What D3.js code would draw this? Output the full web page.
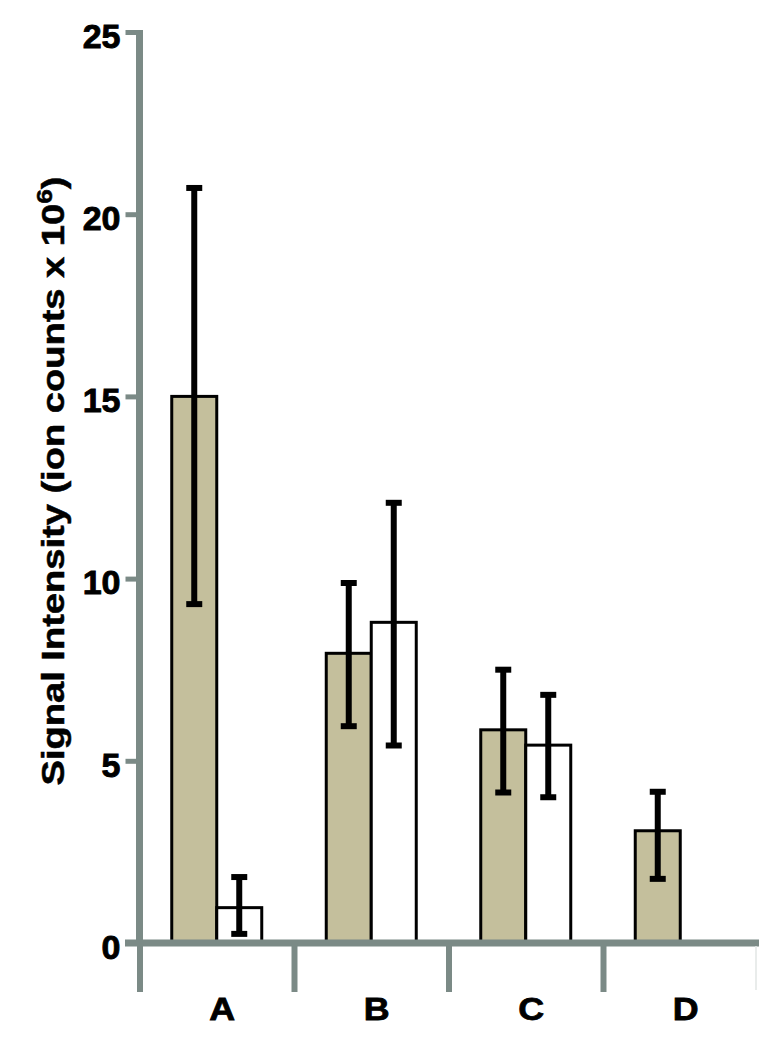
<!DOCTYPE html>
<html>
<head>
<meta charset="utf-8">
<script src="https://cdn.jsdelivr.net/npm/d3@7"></script>
<style>
  html, body { margin: 0; padding: 0; background: #fff; }
  svg { display: block; }
  text { font-family: "Liberation Sans", Arial, sans-serif; font-weight: bold; fill: #000; }
</style>
</head>
<body>
<svg id="chart" width="776" height="1050"></svg>
<script>
// ---- data ----
const categories = ["A", "B", "C", "D"];
const seriesNames = ["filled", "open"];
const meanFilled = [15.0, 7.95, 5.85, 3.08];
const lowFilled  = [9.3, 5.95, 4.13, 1.76];
const highFilled = [20.72, 9.88, 7.5, 4.15];
const meanOpen = [0.97, 8.8, 5.43, null];
const lowOpen  = [0.25, 5.42, 4.0, null];
const highOpen = [1.81, 12.08, 6.81, null];
const yTicks = [0, 5, 10, 15, 20, 25];
const yTitle = "Signal Intensity (ion counts x 10";
const ySup = "6";

// ---- layout ----
const svg = d3.select("#chart");
const axisColor = "#7b8a86";
const tan = "#c4bf9c";

const x = d3.scaleBand().domain(categories).range([140, 758]).padding(0);
const xs = d3.scaleBand().domain(seriesNames).range([0, 90]).padding(0);
const y = d3.scaleLinear().domain([0, 25]).range([943, 32]);

const rows = categories.map((c, i) => [
  { cat: c, s: "filled", v: meanFilled[i], lo: lowFilled[i], hi: highFilled[i] },
  { cat: c, s: "open", v: meanOpen[i], lo: lowOpen[i], hi: highOpen[i] }
]).flat().filter(d => d.v != null);

const groupX = c => x(c) + x.bandwidth() / 2 - 45.5;

// bars
svg.append("g").selectAll("rect").data(rows).join("rect")
  .attr("x", d => groupX(d.cat) + xs(d.s))
  .attr("y", d => y(d.v))
  .attr("width", xs.bandwidth())
  .attr("height", d => y(0) - y(d.v))
  .attr("fill", d => d.s === "filled" ? tan : "#fff")
  .attr("stroke", "#000")
  .attr("stroke-width", 3);

// error bars
const eb = svg.append("g").selectAll("g").data(rows).join("g")
  .attr("transform", d => `translate(${groupX(d.cat) + xs(d.s) + xs.bandwidth() / 2},0)`);
eb.append("line")
  .attr("y1", d => y(d.lo)).attr("y2", d => y(d.hi))
  .attr("stroke", "#000").attr("stroke-width", 6);
eb.append("line")
  .attr("x1", -8).attr("x2", 8)
  .attr("y1", d => y(d.hi)).attr("y2", d => y(d.hi))
  .attr("stroke", "#000").attr("stroke-width", 6);
eb.append("line")
  .attr("x1", -8).attr("x2", 8)
  .attr("y1", d => y(d.lo)).attr("y2", d => y(d.lo))
  .attr("stroke", "#000").attr("stroke-width", 6);

// y axis
const yAxis = svg.append("g")
  .attr("transform", "translate(139.5,0)")
  .call(d3.axisLeft(y).tickValues(yTicks).tickSize(14).tickSizeOuter(0).tickPadding(5));
yAxis.select(".domain").attr("stroke", axisColor).attr("stroke-width", 7)
  .attr("d", `M0,${y(25) - 2}V${y(0)}`);
yAxis.selectAll(".tick line").attr("stroke", axisColor).attr("stroke-width", 5);
yAxis.selectAll(".tick text")
  .attr("font-size", 34).attr("font-family", "'Liberation Sans', Arial, sans-serif")
  .attr("font-weight", "bold").attr("fill", "#000")
  .attr("stroke", "#000").attr("stroke-width", 0.9)
  .attr("dy", "0.45em");

// x axis baseline
svg.append("line")
  .attr("x1", 125).attr("x2", 759).attr("y1", y(0)).attr("y2", y(0))
  .attr("stroke", axisColor).attr("stroke-width", 7);

// category separators
const seps = categories.map(c => x(c));
svg.append("g").selectAll("line").data(seps).join("line")
  .attr("x1", d => d).attr("x2", d => d)
  .attr("y1", y(0)).attr("y2", 992)
  .attr("stroke", axisColor).attr("stroke-width", 6);
svg.append("line")
  .attr("x1", x.range()[1] - 2).attr("x2", x.range()[1] - 2)
  .attr("y1", y(0) + 3).attr("y2", 990)
  .attr("stroke", "#e2e6e5").attr("stroke-width", 1.5);

// category labels
svg.append("g").selectAll("text").data(categories).join("text")
  .attr("transform", d => `translate(${x(d) + x.bandwidth() / 2 + 5},1008) scale(1.12,1)`)
  .attr("dy", "0.36em")
  .attr("text-anchor", "middle")
  .attr("font-size", 32)
  .attr("stroke", "#000").attr("stroke-width", 0.8)
  .text(d => d);

// y title
const t = svg.append("text")
  .attr("transform", "translate(64,481) rotate(-90) scale(1.19,1)")
  .attr("text-anchor", "middle")
  .attr("font-size", 32)
  .attr("stroke", "#000").attr("stroke-width", 0.5);
t.append("tspan").text(yTitle);
t.append("tspan").attr("font-size", 22).attr("dy", -12).text(ySup);
t.append("tspan").attr("dy", 12).text(")");
</script>
</body>
</html>
